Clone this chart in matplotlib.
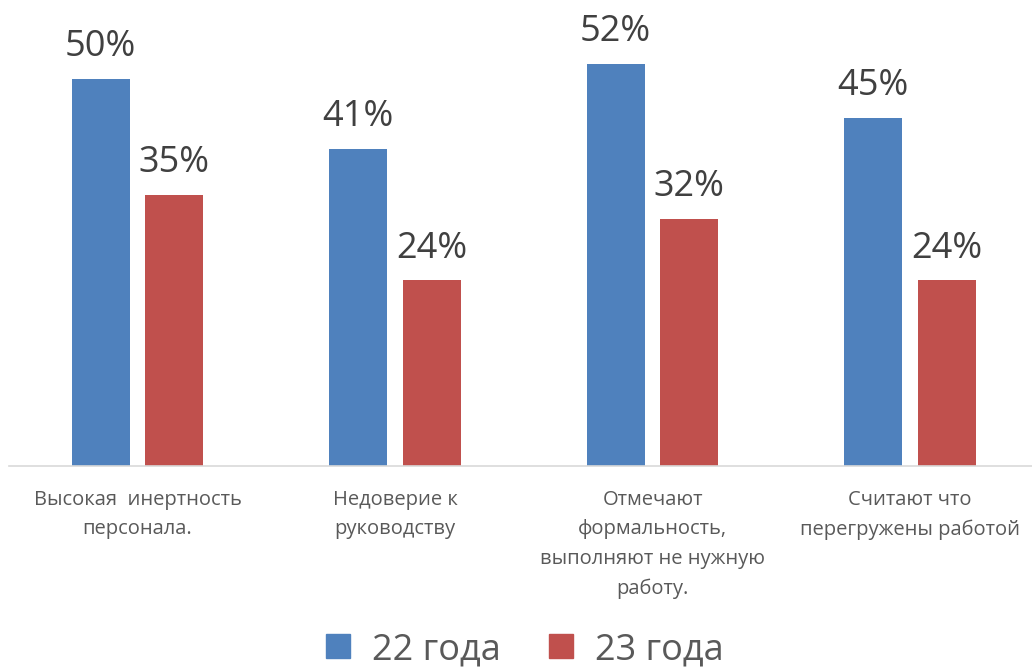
import matplotlib.pyplot as plt
import numpy as np
from matplotlib.patches import Patch

plt.rcParams['font.family'] = ['Open Sans', 'DejaVu Sans']

categories = [
    "Высокая  инертность\nперсонала.",
    "Недоверие к\nруководству",
    "Отмечают\nформальность,\nвыполняют не нужную\nработу.",
    "Считают что\nперегружены работой",
]
series_names = ["22 года", "23 года"]
values_22 = [50, 41, 52, 45]
values_23 = [35, 24, 32, 24]

blue = "#4F81BD"
red = "#C0504D"

fig = plt.figure(figsize=(10.32, 6.70), dpi=100)
ax = fig.add_axes([8.75 / 1032, 204 / 670, 1030 / 1032, 464 / 670])

x = np.arange(len(categories))
width = 0.226
offset = 0.143

bars1 = ax.bar(x - offset, values_22, width, color=blue)
bars2 = ax.bar(x + offset, values_23, width, color=red)

for bars in (bars1, bars2):
    for b in bars:
        ax.annotate(f"{b.get_height():.0f}%",
                    (b.get_x() + b.get_width() / 2, b.get_height()),
                    xytext=(0, 10), textcoords="offset points",
                    ha="center", va="bottom", fontsize=26, color="#404040")

ax.set_xlim(-0.5, len(categories) - 0.5)
ax.set_ylim(0, 60)
ax.set_yticks([])
ax.set_xticks(x)
ax.set_xticklabels(categories, fontsize=14.5, color="#595959", linespacing=1.63,
                   va="top")
ax.tick_params(axis="x", length=0, pad=17)
for s in ("top", "right", "left"):
    ax.spines[s].set_visible(False)
ax.spines["bottom"].set_color("#d9d9d9")
ax.spines["bottom"].set_linewidth(1.2)

handles = [Patch(color=blue), Patch(color=red)]
fig.legend(handles, series_names, loc="center",
           bbox_to_anchor=(0.5 + 9 / 1032, 1 - 650 / 670),
           ncol=2, frameon=False, fontsize=26, labelcolor="#595959",
           handlelength=0.66, handleheight=0.66, handletextpad=0.6, columnspacing=1.35)

fig.savefig("out.png", dpi=100)
